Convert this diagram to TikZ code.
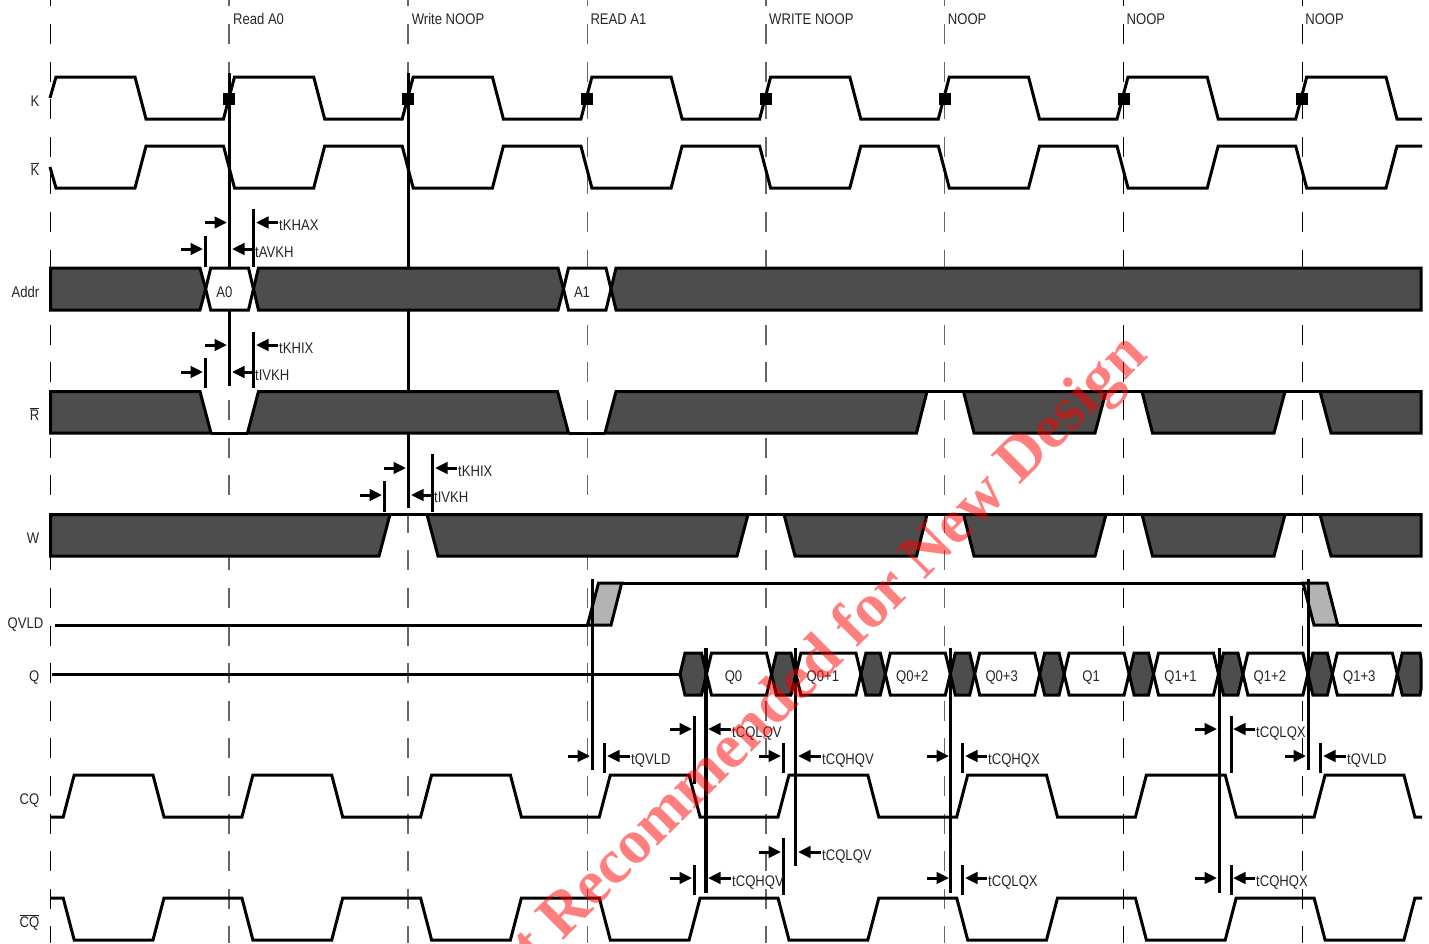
\documentclass[tikz,border=0pt]{standalone}
\usepackage{fontspec}
\setmainfont[FakeStretch=0.85]{Liberation Sans}
\newfontfamily\stampfont{Liberation Serif}
\usetikzlibrary{arrows.meta}
\definecolor{busgray}{HTML}{4D4D4D}
\definecolor{qvldgray}{HTML}{B3B3B3}
\tikzset{
  sig/.style={line width=3pt, line join=miter, black},
  bus/.style={sig, fill=busgray},
  databox/.style={sig, fill=white},
  edgeline/.style={line width=3.3pt, black},
  ticka/.style={line width=3pt, black},
  ptr/.style={line width=3pt, black, -{Triangle[length=12.5pt,width=11.5pt]}},
  lbl/.style={font=\fontsize{15.4}{16}\selectfont, text=black!85, inner sep=0pt, anchor=base west},
  signame/.style={lbl, anchor=base east},
  gridline/.style={dash pattern=on 20pt off 17.6pt},
}
\begin{document}
\begin{tikzpicture}[x=1pt, y=-1pt]
  \useasboundingbox (0,0) rectangle (1429,943);
  % grid
  \foreach \x in {229,408,587.3,766,944.7}
    \draw[gridline, line width=1.5pt, black!60] (\x,-13.6) -- (\x,943);
  \foreach \x in {50.4,1123.5,1302.3}
    \draw[gridline, line width=1.1pt, black] (\x,-13.6) -- (\x,943);
  % top labels
  \foreach \i/\t in {0/Read A0,1/Write NOOP,2/READ A1,3/WRITE NOOP,4/NOOP,5/NOOP,6/NOOP}
    \node[lbl] (cmd\i) at ({232.9+178.7*\i},24) {\t};
  % signal names
  \node[signame] (kname) at (39.5,106) {K};
  \node[signame] (kbname) at (39.5,175) {$\overline{\hbox{K}}$};
  \node[signame] (addrname) at (39.5,297.5) {Addr};
  \node[signame] (rname) at (39.5,420) {$\overline{\hbox{R}}$};
  \node[signame] (wname) at (39.5,543.5) {W};
  \node[signame] (qvldname) at (43.5,628) {QVLD};
  \node[signame] (qname) at (39.5,681) {Q};
  \node[signame] (cqname) at (39.5,804) {CQ};
  \node[signame] (cqbname) at (39.5,927) {$\overline{\hbox{CQ}}$};
  % edges behind the buses
  \draw[edgeline] (229.4,73) -- (229.4,386);
  \draw[edgeline] (408.6,73) -- (408.6,508);
  % clocks
  \draw[sig] (50,98) -- (56,77) foreach \i in {0,...,6} { -- ({135+178.7*\i},77) -- ({146+178.7*\i},119)
    -- ({223.5+178.7*\i},119) -- ({234.5+178.7*\i},77) } -- (1386,77) -- (1397,119) -- (1422,119);
  \draw[sig] (50,167) -- (56,188) foreach \i in {0,...,6} { -- ({135+178.7*\i},188) -- ({146+178.7*\i},146)
    -- ({223.5+178.7*\i},146) -- ({234.5+178.7*\i},188) } -- (1386,188) -- (1397,146) -- (1422,146);
  \foreach \x in {229,408,587.3,766,944.7,1123.5,1302.3}
    \fill[black] (\x-6,92.5) rectangle (\x+6,104.5);
  % Addr
  \draw[bus] (50.5,310) -- (50.5,268) -- (200,268) -- (205.7,289) -- (200,310) -- cycle;
  \draw[databox] (205.7,289) -- (210.7,268) -- (248.5,268) -- (253.5,289) -- (248.5,310) -- (210.7,310) -- cycle;
  \draw[bus] (253.5,289) -- (258.5,268) -- (558,268) -- (563.5,289) -- (558,310) -- (258.5,310) -- cycle;
  \draw[databox] (563.5,289) -- (568.5,268) -- (606,268) -- (611,289) -- (606,310) -- (568.5,310) -- cycle;
  \draw[bus] (1421,268) -- (616,268) -- (611,289) -- (616,310) -- (1421,310) -- cycle;
  \node[lbl, anchor=base] (a0) at (224.5,297.5) {A0};
  \node[lbl, anchor=base] (a1) at (582,297.5) {A1};
  % R
  \draw[bus] (50.5,433) -- (50.5,391.5) -- (200,391.5) -- (211,433) -- cycle;
  \draw[sig] (211,433) -- (247.5,433);
  \draw[bus] (247.5,433) -- (258.5,391.5) -- (557.5,391.5) -- (568.5,433) -- cycle;
  \draw[sig] (568.5,433) -- (605,433);
  \draw[bus] (605,433) -- (616,391.5) -- (927,391.5) -- (916.5,433) -- cycle;
  \draw[sig] (927,391.5) -- (963.5,391.5);
  \draw[bus] (963.5,391.5) -- (974,433) -- (1095,433) -- (1106,391.5) -- cycle;
  \draw[sig] (1106,391.5) -- (1142,391.5);
  \draw[bus] (1142,391.5) -- (1152.5,433) -- (1274,433) -- (1285,391.5) -- cycle;
  \draw[sig] (1285,391.5) -- (1320,391.5);
  \draw[bus] (1421,391.5) -- (1320,391.5) -- (1331,433) -- (1421,433) -- cycle;
  % W
  \draw[bus] (50.5,556) -- (50.5,514.5) -- (390,514.5) -- (379,556) -- cycle;
  \draw[sig] (390,514.5) -- (427,514.5);
  \draw[bus] (427,514.5) -- (438,556) -- (737,556) -- (748,514.5) -- cycle;
  \draw[sig] (748,514.5) -- (784,514.5);
  \draw[bus] (784,514.5) -- (795,556) -- (916.5,556) -- (927,514.5) -- cycle;
  \draw[sig] (927,514.5) -- (963.5,514.5);
  \draw[bus] (963.5,514.5) -- (974,556) -- (1095,556) -- (1106,514.5) -- cycle;
  \draw[sig] (1106,514.5) -- (1142,514.5);
  \draw[bus] (1142,514.5) -- (1152.5,556) -- (1274,556) -- (1285,514.5) -- cycle;
  \draw[sig] (1285,514.5) -- (1320,514.5);
  \draw[bus] (1421,514.5) -- (1320,514.5) -- (1331,556) -- (1421,556) -- cycle;
  % QVLD
  \draw[sig] (55,625) -- (587.5,625);
  \draw[sig, fill=qvldgray] (587.5,625) -- (598.5,583) -- (621.7,583) -- (611,625) -- cycle;
  \draw[sig] (621.7,583) -- (1303,583);
  \draw[sig, fill=qvldgray] (1303,583) -- (1327,583) -- (1337.7,625) -- (1314,625) -- cycle;
  \draw[sig] (1337.7,625) -- (1422,625);
  % Q
  \draw[sig] (52,674) -- (680,674);
  \draw[bus] (680,674) -- (685,653) -- (701.5,653) -- (706.5,674) -- (701.5,695) -- (685,695) -- cycle;
  \foreach \i/\t in {0/Q0,1/Q0+1,2/Q0+2,3/Q0+3,4/Q1,5/Q1+1,6/Q1+2,7/Q1+3}{
    \pgfmathsetmacro{\s}{706.5+89.4*\i}
    \draw[databox] (\s,674) -- ({\s+5},653) -- ({\s+60},653) -- ({\s+65},674) -- ({\s+60},695) -- ({\s+5},695) -- cycle;
    \node[lbl, anchor=base] (q\i) at ({733.5+89.4*\i},681) {\t};
  }
  \foreach \i in {0,...,6}{
    \pgfmathsetmacro{\s}{706.5+89.4*\i}
    \draw[bus] ({\s+65},674) -- ({\s+70},653) -- ({\s+84.4},653) -- ({\s+89.4},674) -- ({\s+84.4},695) -- ({\s+70},695) -- cycle;
  }
  \draw[bus] (1397.3,674) -- (1402.3,653) -- (1420,653) -- (1421,659) -- (1421,689) -- (1420,695) -- (1402.3,695) -- cycle;
  % CQ
  \draw[sig] (50,817) foreach \i in {0,...,7} { -- ({63.2+178.7*\i},817) -- ({74.2+178.7*\i},775)
    -- ({153+178.7*\i},775) -- ({164+178.7*\i},817) } -- (1422,817);
  \draw[sig] (50,898) foreach \i in {0,...,7} { -- ({63.2+178.7*\i},898) -- ({74.2+178.7*\i},940)
    -- ({153+178.7*\i},940) -- ({164+178.7*\i},898) } -- (1422,898);
  % long edges
  \foreach \x/\ya/\yb in {592.3/579/770,706/648/893,795.3/648/866,950.7/648/893,1219.3/648/893,1308.7/579/770}
    \draw[edgeline] (\x,\ya) -- (\x,\yb);
  % ticks
  \foreach \x/\ya/\yb in {253.5/209/267,205.5/236/267,253.5/332/388,205.5/358/388,432.4/454/512,384.5/481/512,
      604.5/743/773,694.3/716/784,783.3/743/773,962.3/743/773,1231.3/716/773,1320.7/743/773,
      783.3/838/895,694.3/865/895,962.3/865/895,1231.3/865/895}
    \draw[ticka] (\x,\ya) -- (\x,\yb);
  % pointers
  \foreach \xa/\xb/\y in {205/227/222.5,181/203/249,205/227/345,181/203/372,384/406/468,360/382/495,
      568/590/756,670/692/729,759/781/756,926.7/949/756,1195/1217/729,1285/1306/756,
      759/781/852,670/692/878,926.7/949/878,1195/1217/878,
      278/256/222.5,254/232/249,278/256/345,254/232/372,457/435/468,433/411/495,
      630/607/756,731/708/729,821/798/756,987/965/756,1255/1233/729,1346/1323/756,
      821/798/852,731/708/878,987/965/878,1255/1233/878}
    \draw[ptr] (\xa,\y) -- (\xb,\y);
  % timing labels
  \foreach \n/\x/\y/\t in {khax/279/230/tKHAX,avkh/255/257.5/tAVKH,khixa/279/353/tKHIX,ivkha/255/380/tIVKH,
      khixb/458/476/tKHIX,ivkhb/434/502/tIVKH,qvlda/631/764/tQVLD,cqlqva/732/737/tCQLQV,
      cqhqva/822/764/tCQHQV,cqhqxa/988/764/tCQHQX,cqlqxa/1256/737/tCQLQX,qvldb/1347/764/tQVLD,
      cqlqvb/822/860/tCQLQV,cqhqvb/732/886.5/tCQHQV,cqlqxb/988/886.5/tCQLQX,cqhqxb/1256/886.5/tCQHQX}
    \node[lbl] (\n) at (\x,\y) {\t};
  % stamp
  \begin{scope}
    \clip (0,0) rectangle (1429,943);
    \node[anchor=base east, rotate=44.9, inner sep=0pt, opacity=0.5, text=red, font=\stampfont\bfseries\fontsize{63}{63}\selectfont]
      (stamp) at (1149,357) {Not Recommended for New Design};
  \end{scope}
\end{tikzpicture}
\end{document}
